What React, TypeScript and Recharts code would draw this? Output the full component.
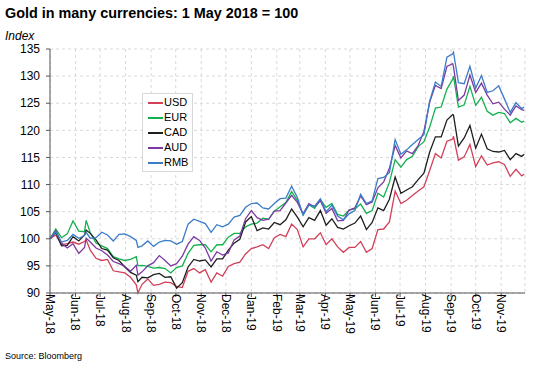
import { LineChart, Line, XAxis, YAxis, CartesianGrid, Legend } from "recharts";

// weekly readings, 1 May 2018 = 100
const dates = [
  "2018-05-01", "2018-05-08", "2018-05-15", "2018-05-22", "2018-05-29", "2018-06-05", "2018-06-12", "2018-06-14",
  "2018-06-19", "2018-06-26", "2018-07-03", "2018-07-10", "2018-07-17", "2018-07-24", "2018-07-31", "2018-08-07",
  "2018-08-14", "2018-08-16", "2018-08-21", "2018-08-28", "2018-09-04", "2018-09-11", "2018-09-18", "2018-09-25",
  "2018-10-02", "2018-10-09", "2018-10-16", "2018-10-23", "2018-10-30", "2018-11-06", "2018-11-13", "2018-11-20",
  "2018-11-27", "2018-12-04", "2018-12-11", "2018-12-18", "2018-12-25", "2019-01-01", "2019-01-08", "2019-01-15",
  "2019-01-22", "2019-01-29", "2019-02-05", "2019-02-12", "2019-02-19", "2019-02-26", "2019-03-05", "2019-03-12",
  "2019-03-19", "2019-03-26", "2019-04-02", "2019-04-09", "2019-04-16", "2019-04-23", "2019-04-30", "2019-05-07",
  "2019-05-14", "2019-05-21", "2019-05-28", "2019-06-04", "2019-06-11", "2019-06-18", "2019-06-25", "2019-07-02",
  "2019-07-09", "2019-07-16", "2019-07-23", "2019-07-30", "2019-08-06", "2019-08-13", "2019-08-20", "2019-08-27",
  "2019-09-03", "2019-09-04", "2019-09-10", "2019-09-17", "2019-09-24", "2019-10-01", "2019-10-08", "2019-10-15",
  "2019-10-22", "2019-10-29", "2019-11-05", "2019-11-12", "2019-11-19", "2019-11-26", "2019-11-29",
];

const usd = [
  100.0, 100.7, 98.9, 99.1, 99.4, 99.0, 99.5, 99.8, 97.9, 96.4, 96.0, 96.2, 94.1, 93.9, 93.7, 92.9,
  91.5, 90.0, 91.6, 92.6, 91.4, 91.6, 92.0, 91.9, 91.2, 91.0, 94.0, 94.5, 93.7, 94.3, 92.0, 93.7,
  93.1, 94.9, 95.4, 95.7, 97.2, 98.2, 98.5, 98.9, 98.2, 100.2, 100.8, 100.4, 102.7, 101.7, 98.5, 100.0,
  100.0, 101.1, 98.9, 100.0, 98.5, 97.5, 98.4, 98.4, 99.5, 97.5, 98.2, 101.7, 101.8, 103.1, 108.8, 106.5,
  107.1, 108.0, 108.8, 109.6, 112.6, 115.7, 114.9, 118.0, 118.4, 118.9, 114.5, 115.1, 117.4, 113.3, 115.3, 113.6,
  114.0, 114.2, 113.7, 111.5, 112.8, 111.6, 111.9,
];
const eur = [
  100.0, 101.8, 100.2, 100.9, 103.3, 101.4, 101.3, 103.4, 101.1, 99.2, 98.7, 98.2, 96.7, 96.3, 96.0, 96.2,
  96.7, 95.0, 95.1, 94.9, 94.6, 94.7, 94.5, 93.7, 94.7, 95.0, 97.3, 98.8, 98.9, 98.9, 97.6, 98.9,
  98.9, 100.3, 101.0, 101.0, 102.2, 102.7, 102.9, 103.8, 103.6, 105.1, 105.9, 106.7, 108.7, 107.1, 104.4, 106.3,
  105.6, 107.2, 105.8, 106.5, 104.5, 104.2, 105.3, 105.5, 106.4, 104.7, 105.2, 108.4, 107.7, 110.4, 114.6, 113.2,
  114.6, 115.2, 117.0, 117.9, 120.6, 124.1, 124.3, 127.6, 129.4, 130.0, 124.3, 124.7, 128.1, 124.6, 126.1, 123.5,
  122.8, 123.3, 123.1, 121.4, 122.2, 121.5, 121.7,
];
const cad = [
  100.0, 101.2, 98.7, 98.8, 100.4, 99.6, 100.7, 101.6, 101.0, 99.8, 98.2, 97.9, 96.5, 96.0, 94.8, 93.8,
  93.3, 92.1, 92.9, 92.8, 93.4, 93.6, 92.9, 93.0, 90.9, 91.9, 94.8, 96.2, 95.9, 96.1, 94.8, 96.3,
  96.3, 97.9, 99.2, 99.9, 103.1, 104.1, 101.5, 102.0, 101.8, 103.0, 102.6, 103.5, 105.5, 104.0, 102.2, 103.9,
  103.4, 105.2, 102.5, 103.7, 102.1, 101.8, 102.4, 102.9, 104.2, 101.7, 103.0, 105.7, 105.2, 107.3, 111.4, 108.4,
  109.0, 109.6, 110.9, 112.1, 116.0, 118.8, 118.8, 121.9, 122.9, 122.8, 117.1, 118.6, 120.9, 116.7, 119.3, 116.6,
  116.1, 116.0, 116.3, 114.6, 115.7, 115.2, 115.6,
];
const aud = [
  100.0, 101.5, 99.2, 98.3, 99.1, 97.3, 98.4, 100.1, 99.4, 98.3, 97.8, 97.0, 95.8, 95.4, 94.9, 94.0,
  95.1, 93.3, 93.9, 95.0, 95.6, 96.9, 96.0, 95.0, 95.4, 96.8, 99.0, 100.4, 99.7, 98.3, 95.9, 97.6,
  97.0, 97.4, 99.8, 100.5, 103.7, 105.2, 103.9, 103.4, 103.6, 105.1, 105.2, 106.6, 108.0, 106.7, 104.6, 106.5,
  105.9, 107.0, 104.7, 105.6, 103.3, 103.4, 105.3, 105.7, 107.9, 106.3, 106.8, 109.4, 110.5, 113.0, 117.2, 114.9,
  116.2, 115.7, 117.2, 119.8, 125.2, 128.3, 127.7, 131.8, 132.3, 131.7, 125.5, 126.5, 130.2, 127.0, 128.7, 126.5,
  124.9, 125.2, 123.9, 122.8, 124.5, 123.8, 123.7,
];
const rmb = [
  100.0, 101.3, 99.4, 99.7, 100.8, 100.1, 100.6, 101.2, 100.1, 100.2, 101.2, 100.7, 99.6, 100.8, 100.9, 100.4,
  99.7, 98.4, 98.7, 99.6, 98.6, 99.4, 99.7, 99.6, 99.0, 99.5, 102.7, 103.6, 103.2, 102.8, 101.2, 102.6,
  102.2, 102.7, 104.0, 104.3, 105.8, 106.5, 106.6, 105.7, 105.5, 106.5, 107.4, 107.5, 109.7, 107.6, 104.4, 106.2,
  106.0, 107.4, 105.0, 106.2, 104.2, 103.5, 104.6, 105.2, 108.2, 106.5, 107.0, 111.1, 111.3, 112.2, 118.3, 115.6,
  116.4, 117.4, 118.3, 119.2, 125.4, 128.9, 128.1, 133.5, 134.1, 134.4, 128.8, 128.6, 131.8, 127.8, 130.1, 127.0,
  127.3, 128.2, 125.8, 123.3, 125.1, 124.0, 124.3,
];

const monthStarts = [
  "2018-05-01", "2018-06-01", "2018-07-01", "2018-08-01", "2018-09-01", "2018-10-01", "2018-11-01",
  "2018-12-01", "2019-01-01", "2019-02-01", "2019-03-01", "2019-04-01", "2019-05-01", "2019-06-01",
  "2019-07-01", "2019-08-01", "2019-09-01", "2019-10-01", "2019-11-01",
];
const monthLabels = [
  "May-18", "Jun-18", "Jul-18", "Aug-18", "Sep-18", "Oct-18", "Nov-18", "Dec-18", "Jan-19", "Feb-19",
  "Mar-19", "Apr-19", "May-19", "Jun-19", "Jul-19", "Aug-19", "Sep-19", "Oct-19", "Nov-19",
];
const yTicks = [90, 95, 100, 105, 110, 115, 120, 125, 130, 135];

const series = [
  { key: "USD", values: usd, color: "#d2405a" },
  { key: "EUR", values: eur, color: "#13b04f" },
  { key: "CAD", values: cad, color: "#1e1e1e" },
  { key: "AUD", values: aud, color: "#7b3aa0" },
  { key: "RMB", values: rmb, color: "#3b7cc8" },
];

const DAY = 86400000;
const start = Date.parse(dates[0]);
const dayOf = (d: string) => Math.round((Date.parse(d) - start) / DAY);

const data = dates.map((d, i) => {
  const row: Record<string, number> = { t: dayOf(d) };
  series.forEach((s) => (row[s.key] = s.values[i]));
  return row;
});

const monthTicks = monthStarts.map(dayOf);
const labelFor: Record<number, string> = {};
monthTicks.forEach((t, i) => (labelFor[t] = monthLabels[i]));

const FONT = "'Liberation Sans', Arial, sans-serif";

const MonthTick = (props: any) => {
  const { x, y, payload } = props;
  const ty = y - 4;
  return (
    <text
      x={x}
      y={ty}
      transform={`rotate(90 ${x} ${ty})`}
      textAnchor="start"
      dominantBaseline="central"
      fontSize={12}
      fontFamily={FONT}
      fill="#000"
    >
      {labelFor[payload.value]}
    </text>
  );
};

const LegendBox = () => (
  <div
    style={{
      border: "1px solid #d9d9d9",
      background: "#fff",
      padding: "1px 4px 1px 5px",
      fontFamily: FONT,
      fontSize: 11,
      lineHeight: "15px",
      color: "#000",
    }}
  >
    {series.map((s) => (
      <div key={s.key} style={{ display: "flex", alignItems: "center", whiteSpace: "nowrap" }}>
        <span style={{ display: "inline-block", width: 15, height: 2, background: s.color, marginRight: 1, flex: "none" }} />
        <span>{s.key}</span>
      </div>
    ))}
  </div>
);

export default function App() {
  return (
    <div style={{ position: "absolute", left: 0, top: 0, width: 550, height: 367, background: "#fff", fontFamily: FONT }}>
      <div style={{ position: "absolute", left: 5, top: 5, fontSize: 14.4, fontWeight: "bold", lineHeight: "16px" }}>
        Gold in many currencies: 1 May 2018 = 100
      </div>
      <div style={{ position: "absolute", left: 5, top: 29, fontSize: 12, fontStyle: "italic", lineHeight: "14px" }}>
        Index
      </div>
      <LineChart width={550} height={367} data={data} margin={{ top: 49, right: 25, bottom: 14, left: 0 }}>
        <CartesianGrid strokeDasharray="3 3" stroke="#d9d9d9" />
        <XAxis
          dataKey="t"
          type="number"
          domain={[0, 578]}
          ticks={monthTicks}
          interval={0}
          height={60}
          tick={<MonthTick />}
          tickSize={4}
          tickMargin={1}
          stroke="#555"
        />
        <YAxis
          domain={[90, 135]}
          ticks={yTicks}
          interval={0}
          width={50}
          tickSize={4}
          tickMargin={6}
          stroke="#555"
          tick={{ fontSize: 12, fill: "#000", fontFamily: FONT }}
        />
        <Legend
          layout="vertical"
          align="center"
          verticalAlign="middle"
          content={<LegendBox />}
          wrapperStyle={{ position: "absolute", left: 142, top: 93, width: "auto" }}
        />
        {series.map((s) => (
          <Line
            key={s.key}
            type="linear"
            dataKey={s.key}
            stroke={s.color}
            strokeWidth={1.3}
            dot={false}
            isAnimationActive={false}
          />
        ))}
      </LineChart>
      <div style={{ position: "absolute", left: 5, top: 351, fontSize: 9, lineHeight: "11px" }}>Source: Bloomberg</div>
    </div>
  );
}
